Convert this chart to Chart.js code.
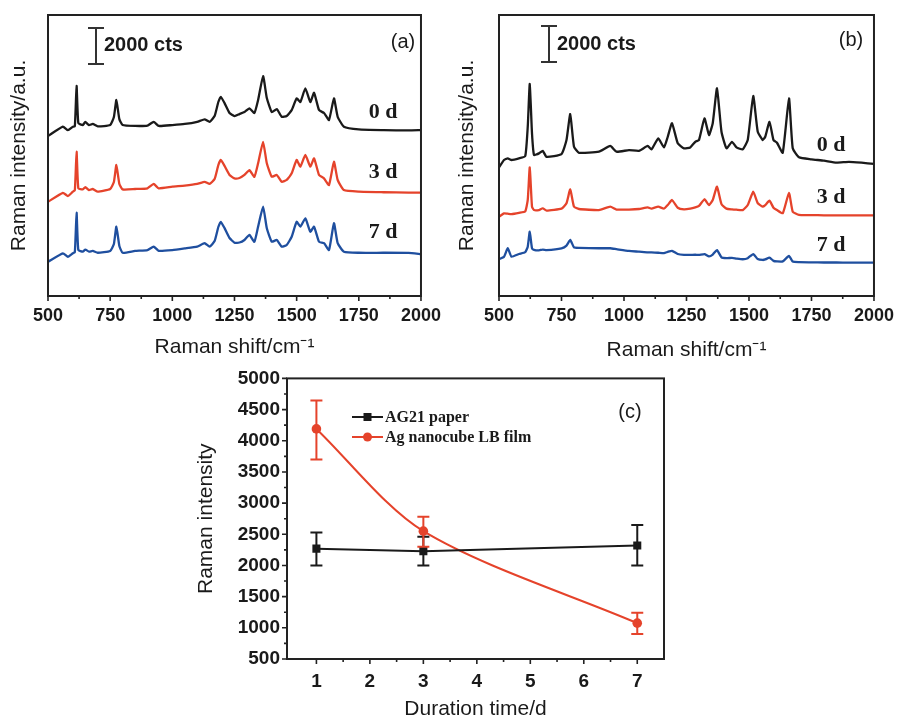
<!DOCTYPE html>
<html><head><meta charset="utf-8">
<script src="https://cdn.jsdelivr.net/npm/chart.js@4.4.0/dist/chart.umd.min.js"></script>
<style>
html,body{margin:0;padding:0;background:#fff;width:903px;height:722px;overflow:hidden;}
canvas{position:absolute;}
</style></head><body>
<canvas id="ca" width="450" height="360" style="left:0px;top:0px"></canvas>
<canvas id="cb" width="453" height="370" style="left:450px;top:0px"></canvas>
<canvas id="cc" width="530" height="362" style="left:190px;top:360px"></canvas>
<script>
// ---------- DATA ----------
// Panel (a): AG21 paper spectra (Raman shift, cm-1) and stacked intensities (cts)
const waveA = [500,560,580,600,608,615,622,640,650,665,680,700,750,765,775,787,800,850,900,925,945,1000,1050,1100,1130,1150,1170,1185,1195,1210,1230,1250,1270,1290,1310,1330,1345,1365,1380,1400,1420,1440,1460,1480,1500,1515,1535,1555,1570,1590,1610,1630,1650,1665,1690,1750,1850,1950,2000];
const a0d = [8880,9400,9210,9400,9430,11660,9600,9490,9660,9490,9550,9420,9490,9940,10880,9820,9490,9440,9460,9670,9440,9490,9550,9670,9810,9670,9990,10770,11060,10710,10160,9990,10100,10210,10420,10160,10880,12210,10990,10210,10380,9950,9990,10320,10970,10770,11530,10770,11280,10320,10160,9770,10970,9950,9400,9250,9210,9190,9210];
const a3d = [5230,5730,5550,5790,5880,8010,5980,5920,6050,5880,5940,5790,5940,6330,7270,6220,5920,5940,5980,6220,5980,6070,6130,6220,6340,6220,6490,7270,7550,7220,6720,6530,6550,6720,6990,6620,7370,8560,7370,6620,6720,6340,6440,6810,7550,7180,7830,7180,7640,6720,6530,6160,7450,6440,5880,5790,5760,5740,5740];
const a7d = [1900,2370,2180,2370,2440,4620,2550,2460,2580,2460,2500,2400,2500,2890,3850,2780,2400,2500,2550,2740,2510,2550,2640,2740,2930,2740,3050,3830,4120,3770,3220,2960,2970,3110,3390,3010,3850,4960,3760,3010,3110,2740,2830,3290,4120,3850,4310,3570,3850,3010,2930,2550,4040,2930,2460,2400,2400,2390,2330];
// Panel (b): Ag nanocube LB film spectra
const waveB = [500,520,535,550,580,605,615,623,632,640,660,675,690,750,770,785,800,820,900,945,970,1020,1060,1095,1110,1137,1160,1175,1192,1215,1240,1265,1285,1300,1322,1340,1355,1372,1390,1410,1432,1450,1475,1495,1517,1535,1555,1565,1582,1598,1612,1635,1660,1675,1700,1750,1800,1850,1900,1950,2000];
const b0d = [7140,7550,7640,7550,7640,7770,9400,11770,9030,7830,7920,8060,7730,7880,8660,10100,8290,7950,8010,8330,8010,8100,8060,8330,8140,8750,8250,8840,9590,8480,8200,8250,8560,8660,9860,8940,9590,11530,9120,8200,8560,8250,8140,8660,11100,9120,8660,8840,9670,8660,8510,7950,10970,8200,7700,7590,7510,7400,7450,7400,7330];
const b3d = [4400,4590,4570,4550,4620,4700,5330,7140,4960,4770,4770,4870,4740,4850,5150,5920,4960,4830,4770,4960,4800,4800,4830,4920,4850,4960,4850,5050,5330,4900,4810,4850,4920,5000,5370,5050,5330,6070,5100,4850,4810,4790,4770,5050,5790,5150,4960,5050,5290,4900,4770,4590,5730,4680,4500,4490,4480,4480,4480,4480,4480];
const b7d = [2040,2180,2650,2180,2330,2430,2740,3570,2650,2560,2530,2580,2550,2650,2800,3110,2700,2670,2650,2650,2600,2500,2460,2420,2420,2400,2380,2450,2510,2330,2280,2280,2290,2280,2330,2200,2300,2550,2150,2100,2120,2080,2040,2100,2330,2050,2000,2030,2130,1950,1920,1920,2220,1910,1880,1870,1860,1860,1850,1850,1850];
const spectraTicks = [500,750,1000,1250,1500,1750,2000];
const seriesLabels = ['0 d','3 d','7 d'];
// Panel (c): intensity vs. duration
const durationDays = [1,3,7];
const ag21Mean  = [2270,2230,2320];
const ag21Upper = [2530,2460,2650];
const ag21Lower = [2000,2000,2000];
const lbMean  = [4190,2550,1075];
const lbUpper = [4645,2780,1240];
const lbLower = [3700,2300,900];
const durationTicks = [1,2,3,4,5,6,7];
const intensityTicks = [500,1000,1500,2000,2500,3000,3500,4000,4500,5000];

// ---------- STYLE ----------
const SANS = "'Liberation Sans', Arial, sans-serif";
const SERIF = "'Liberation Serif', 'Times New Roman', serif";
const INK = '#1a1a1a';
const RED = '#e5432b';
const BLUE = '#1f4f9f';
Chart.defaults.color = INK;

const pts = (xs, ys) => xs.map((x, i) => ({x: x, y: ys[i]}));
const plain = v => String(v);

const frameTicks = {
  id: 'frameTicks',
  afterDraw(chart, args, o) {
    const {ctx, chartArea: a, scales} = chart;
    ctx.save();
    ctx.strokeStyle = '#222';
    ctx.lineWidth = 2;
    ctx.strokeRect(a.left, a.top, a.right - a.left, a.bottom - a.top);
    ctx.lineWidth = 1.6;
    ctx.beginPath();
    const xs = scales.x, xt = xs.ticks.map(t => t.value);
    xt.forEach((v, i) => {
      const p = xs.getPixelForValue(v);
      ctx.moveTo(p, a.bottom); ctx.lineTo(p, a.bottom + 5);
      if (i < xt.length - 1) {
        const m = xs.getPixelForValue((v + xt[i + 1]) / 2);
        ctx.moveTo(m, a.bottom); ctx.lineTo(m, a.bottom + 3);
      }
    });
    if (o.yTicks) {
      const ys = scales.y, yt = ys.ticks.map(t => t.value);
      yt.forEach((v, i) => {
        const p = ys.getPixelForValue(v);
        ctx.moveTo(a.left, p); ctx.lineTo(a.left - 5, p);
        if (i < yt.length - 1) {
          const m = ys.getPixelForValue((v + yt[i + 1]) / 2);
          ctx.moveTo(a.left, m); ctx.lineTo(a.left - 3, m);
        }
      });
    }
    ctx.stroke();
    ctx.restore();
  }
};

const annot = {
  id: 'annot',
  afterDatasetsDraw(chart, args, o) {
    const ctx = chart.ctx;
    ctx.save();
    if (o.errors) {
      const xs = chart.scales.x, ys = chart.scales.y;
      o.errors.forEach(e => {
        ctx.strokeStyle = e.color; ctx.lineWidth = 2;
        ctx.beginPath();
        e.x.forEach((xv, i) => {
          const px = xs.getPixelForValue(xv);
          const pu = ys.getPixelForValue(e.upper[i]);
          const pl = ys.getPixelForValue(e.lower[i]);
          ctx.moveTo(px, pu); ctx.lineTo(px, pl);
          ctx.moveTo(px - 6, pu); ctx.lineTo(px + 6, pu);
          ctx.moveTo(px - 6, pl); ctx.lineTo(px + 6, pl);
        });
        ctx.stroke();
      });
    }
    ctx.restore();
  },
  afterDraw(chart, args, o) {
    const ctx = chart.ctx;
    ctx.save();
    if (o.scaleBar) {
      const sb = o.scaleBar;
      const ys = chart.scales.y;
      const y0 = ys.getPixelForValue(sb.base), y1 = ys.getPixelForValue(sb.base + sb.len);
      ctx.strokeStyle = '#333'; ctx.lineWidth = 2;
      ctx.beginPath();
      ctx.moveTo(sb.x, y0); ctx.lineTo(sb.x, y1);
      ctx.moveTo(sb.x - 8, y0); ctx.lineTo(sb.x + 8, y0);
      ctx.moveTo(sb.x - 8, y1); ctx.lineTo(sb.x + 8, y1);
      ctx.stroke();
      ctx.fillStyle = INK; ctx.font = 'bold 20px ' + SANS;
      ctx.textAlign = 'left'; ctx.textBaseline = 'middle';
      ctx.fillText(sb.text, sb.x + 8, (y0 + y1) / 2);
    }
    (o.texts || []).forEach(t => {
      ctx.font = t.font; ctx.fillStyle = t.color || INK;
      ctx.textAlign = t.align || 'center'; ctx.textBaseline = 'middle';
      ctx.fillText(t.text, t.x, t.y);
    });
    if (o.legend) {
      const L = o.legend;
      chart.data.datasets.forEach((ds, i) => {
        const y = L.y + i * L.gap;
        ctx.strokeStyle = ds.borderColor; ctx.lineWidth = 2;
        ctx.beginPath(); ctx.moveTo(L.x, y); ctx.lineTo(L.x + 31, y); ctx.stroke();
        ctx.fillStyle = ds.borderColor;
        if (ds.pointStyle === 'rect') ctx.fillRect(L.x + 11.5, y - 4, 8, 8);
        else { ctx.beginPath(); ctx.arc(L.x + 15.5, y, 4.5, 0, Math.PI * 2); ctx.fill(); }
        ctx.fillStyle = INK; ctx.font = 'bold 16px ' + SERIF;
        ctx.textAlign = 'left'; ctx.textBaseline = 'middle';
        ctx.fillText(ds.label, L.x + 33, y + 1);
      });
    }
    ctx.restore();
  }
};

function spectraChart(id, wave, s0, s3, s7, cfg) {
  const mk = (label, data, color) => ({
    label: label, data: pts(wave, data), borderColor: color, backgroundColor: color,
    borderWidth: 2.3, pointRadius: 0, tension: 0.15, fill: false
  });
  return new Chart(document.getElementById(id), {
    type: 'line',
    data: {datasets: [mk(seriesLabels[0], s0, INK), mk(seriesLabels[1], s3, RED), mk(seriesLabels[2], s7, BLUE)]},
    options: {
      responsive: false, animation: false, devicePixelRatio: 1,
      layout: {padding: {left: 0, top: 15, right: cfg.padRight, bottom: 0}},
      scales: {
        x: {
          type: 'linear', min: 500, max: 2000,
          afterBuildTicks: s => { s.ticks = spectraTicks.map(v => ({value: v})); },
          afterFit: s => { s.height = cfg.xHeight; },
          grid: {display: false, drawTicks: false}, border: {display: false},
          ticks: {font: {family: SANS, size: 18, weight: 'bold'}, color: INK, padding: 9, maxRotation: 0, autoSkip: false, callback: plain},
          title: {display: true, text: 'Raman shift/cm\u207B\u00B9', font: {family: SANS, size: 21}, color: INK, padding: {top: 0, bottom: cfg.xTitlePad}}
        },
        y: {
          type: 'linear', min: 0, max: 15600,
          afterFit: s => { s.width = cfg.yWidth; },
          grid: {display: false, drawTicks: false}, border: {display: false},
          ticks: {display: false},
          title: {display: true, text: 'Raman intensity/a.u.', font: {family: SANS, size: 21}, color: INK, padding: {top: cfg.yTitlePad, bottom: 0}}
        }
      },
      plugins: {
        legend: {display: false}, tooltip: {enabled: false},
        annot: {
          scaleBar: {x: cfg.barX, base: cfg.barBase, len: 2000, text: '2000 cts'},
          texts: [
            {text: cfg.panel, x: cfg.panelX, y: cfg.panelY, font: '20px ' + SANS},
            {text: seriesLabels[0], x: cfg.lblX, y: cfg.lblY[0], font: 'bold 22px ' + SERIF},
            {text: seriesLabels[1], x: cfg.lblX, y: cfg.lblY[1], font: 'bold 22px ' + SERIF},
            {text: seriesLabels[2], x: cfg.lblX, y: cfg.lblY[2], font: 'bold 22px ' + SERIF}
          ]
        },
        frameTicks: {yTicks: false}
      }
    },
    plugins: [frameTicks, annot]
  });
}

spectraChart('ca', waveA, a0d, a3d, a7d, {
  padRight: 23, xHeight: 64, yWidth: 48, xTitlePad: 0, yTitlePad: 7,
  barX: 96, barBase: 12880, panel: '(a)', panelX: 403, panelY: 42,
  lblX: 383, lblY: [112, 172, 232]
});
spectraChart('cb', waveB, b0d, b3d, b7d, {
  padRight: 25, xHeight: 74, yWidth: 49, xTitlePad: 7, yTitlePad: 5,
  barX: 99, barBase: 12990, panel: '(b)', panelX: 401, panelY: 40,
  lblX: 381, lblY: [145, 197, 245]
});

new Chart(document.getElementById('cc'), {
  type: 'line',
  data: {datasets: [
    {label: 'AG21 paper', data: pts(durationDays, ag21Mean), borderColor: INK, backgroundColor: INK,
     borderWidth: 2, pointStyle: 'rect', pointRadius: 5.7, pointBorderWidth: 0, tension: 0},
    {label: 'Ag nanocube LB film', data: pts(durationDays, lbMean), borderColor: RED, backgroundColor: RED,
     borderWidth: 2, pointStyle: 'circle', pointRadius: 4.8, pointBorderWidth: 0, tension: 0.3}
  ]},
  options: {
    responsive: false, animation: false, devicePixelRatio: 1,
    layout: {padding: {left: 0, top: 17, right: 56, bottom: 0}},
    scales: {
      x: {
        type: 'linear', min: 0.45, max: 7.5,
        afterBuildTicks: s => { s.ticks = durationTicks.map(v => ({value: v})); },
        afterFit: s => { s.height = 63; },
        grid: {display: false, drawTicks: false}, border: {display: false},
        ticks: {font: {family: SANS, size: 19, weight: 'bold'}, color: INK, padding: 11, maxRotation: 0, autoSkip: false, callback: plain},
        title: {display: true, text: 'Duration time/d', font: {family: SANS, size: 21}, color: INK, padding: {top: 0, bottom: 0}}
      },
      y: {
        type: 'linear', min: 500, max: 5000,
        afterBuildTicks: s => { s.ticks = intensityTicks.map(v => ({value: v})); },
        afterFit: s => { s.width = 97; },
        grid: {display: false, drawTicks: false}, border: {display: false},
        ticks: {font: {family: SANS, size: 19, weight: 'bold'}, color: INK, padding: 7, callback: plain},
        title: {display: true, text: 'Raman intensity', font: {family: SANS, size: 21}, color: INK, padding: {top: 4, bottom: 0}}
      }
    },
    plugins: {
      legend: {display: false}, tooltip: {enabled: false},
      annot: {
        errors: [
          {x: durationDays, upper: ag21Upper, lower: ag21Lower, color: INK},
          {x: durationDays, upper: lbUpper, lower: lbLower, color: RED}
        ],
        legend: {x: 162, y: 57, gap: 20},
        texts: [{text: '(c)', x: 440, y: 52, font: '20px ' + SANS}]
      },
      frameTicks: {yTicks: true}
    }
  },
  plugins: [frameTicks, annot]
});
</script>
</body></html>
